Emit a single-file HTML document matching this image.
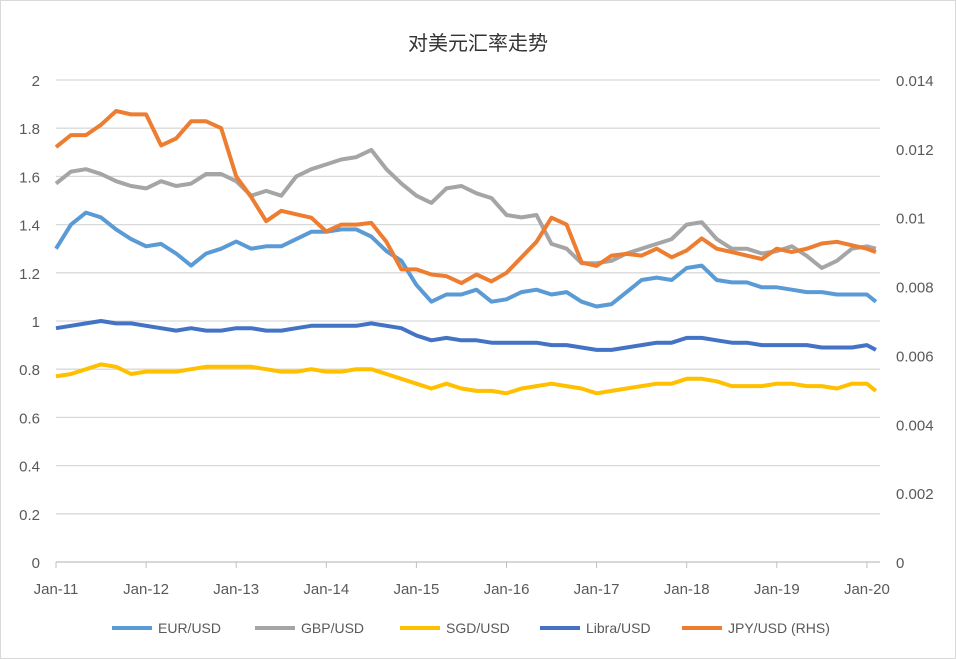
<!DOCTYPE html>
<html><head><meta charset="utf-8"><style>
body{margin:0;background:#fff}
svg{display:block;font-family:"Liberation Sans","Noto Sans CJK SC",sans-serif}
</style></head><body>
<svg id="chart" width="956" height="659">
<rect x="0.5" y="0.5" width="955" height="658" fill="#fff" stroke="#d9d9d9"/>
<text x="478" y="50" text-anchor="middle" font-size="20" fill="#333" font-family="'Liberation Sans','Noto Sans CJK SC',sans-serif">对美元汇率走势</text>
<g id="grid"></g><g id="axes"></g><g id="series"></g><g id="legend"></g>
</svg>
<script>
const leftTicks=["0","0.2","0.4","0.6","0.8","1","1.2","1.4","1.6","1.8","2"];
const rightTicks=["0","0.002","0.004","0.006","0.008","0.01","0.012","0.014"];
const xTicks=["Jan-11","Jan-12","Jan-13","Jan-14","Jan-15","Jan-16","Jan-17","Jan-18","Jan-19","Jan-20"];
const eur=[1.30,1.40,1.45,1.43,1.38,1.34,1.31,1.32,1.28,1.23,1.28,1.30,1.33,1.30,1.31,1.31,1.34,1.37,1.37,1.38,1.38,1.35,1.29,1.25,1.15,1.08,1.11,1.11,1.13,1.08,1.09,1.12,1.13,1.11,1.12,1.08,1.06,1.07,1.12,1.17,1.18,1.17,1.22,1.23,1.17,1.16,1.16,1.14,1.14,1.13,1.12,1.12,1.11,1.11,1.11,1.08];
const gbp=[1.57,1.62,1.63,1.61,1.58,1.56,1.55,1.58,1.56,1.57,1.61,1.61,1.58,1.52,1.54,1.52,1.60,1.63,1.65,1.67,1.68,1.71,1.63,1.57,1.52,1.49,1.55,1.56,1.53,1.51,1.44,1.43,1.44,1.32,1.30,1.24,1.24,1.25,1.28,1.30,1.32,1.34,1.40,1.41,1.34,1.30,1.30,1.28,1.29,1.31,1.27,1.22,1.25,1.30,1.31,1.30];
const sgd=[0.77,0.78,0.80,0.82,0.81,0.78,0.79,0.79,0.79,0.80,0.81,0.81,0.81,0.81,0.80,0.79,0.79,0.80,0.79,0.79,0.80,0.80,0.78,0.76,0.74,0.72,0.74,0.72,0.71,0.71,0.70,0.72,0.73,0.74,0.73,0.72,0.70,0.71,0.72,0.73,0.74,0.74,0.76,0.76,0.75,0.73,0.73,0.73,0.74,0.74,0.73,0.73,0.72,0.74,0.74,0.71];
const libra=[0.97,0.98,0.99,1.00,0.99,0.99,0.98,0.97,0.96,0.97,0.96,0.96,0.97,0.97,0.96,0.96,0.97,0.98,0.98,0.98,0.98,0.99,0.98,0.97,0.94,0.92,0.93,0.92,0.92,0.91,0.91,0.91,0.91,0.90,0.90,0.89,0.88,0.88,0.89,0.90,0.91,0.91,0.93,0.93,0.92,0.91,0.91,0.90,0.90,0.90,0.90,0.89,0.89,0.89,0.90,0.88];
const jpy=[0.01205,0.0124,0.0124,0.0127,0.0131,0.0130,0.0130,0.0121,0.0123,0.0128,0.0128,0.0126,0.0112,0.0106,0.0099,0.0102,0.0101,0.0100,0.0096,0.0098,0.0098,0.00985,0.0093,0.0085,0.0085,0.00835,0.0083,0.0081,0.00835,0.00815,0.0084,0.00885,0.0093,0.0100,0.0098,0.0087,0.0086,0.0089,0.00895,0.0089,0.0091,0.00885,0.00905,0.0094,0.0091,0.0090,0.0089,0.0088,0.0091,0.0090,0.0091,0.00925,0.0093,0.0092,0.0091,0.0090];
const X0=56,PXY=90.1,Y0=562,TOP=80,PR=880;
const xs=i=>X0+(i<55?i/6:9.1)*PXY;
const yl=v=>Y0-(v/2)*(Y0-TOP);
const yr=v=>Y0-(v/0.014)*(Y0-TOP);
const NS="http://www.w3.org/2000/svg";
function mk(t,a,p){const e=document.createElementNS(NS,t);for(const k in a)e.setAttribute(k,a[k]);p.appendChild(e);return e;}
const grid=document.getElementById('grid'),axes=document.getElementById('axes'),ser=document.getElementById('series'),leg=document.getElementById('legend');
leftTicks.forEach((t,i)=>{const y=yl(+t);
 const l=mk('line',{x1:X0,x2:PR,y1:y,y2:y,stroke:i==0?'#bfbfbf':'#d9d9d9','stroke-width':1.3},grid);
 
 
 const tx=mk('text',{x:40,y:y+6,'text-anchor':'end','font-size':15,fill:'#595959'},axes);tx.textContent=t;
 
 });
rightTicks.forEach(t=>{const y=yr(+t);
 const tx=mk('text',{x:896,y:y+6,'font-size':15,fill:'#595959'},axes);tx.textContent=t;
 
 });
xTicks.forEach((t,i)=>{const x=X0+i*PXY;
 const tk=mk('line',{x1:x,x2:x,y1:Y0,y2:Y0+6,stroke:'#bfbfbf'},axes);
 
 
 const tx=mk('text',{x:x,y:Y0+32,'text-anchor':'middle','font-size':15,fill:'#595959'},axes);tx.textContent=t;
 
 });
const S=[["EUR/USD",eur,'#5b9bd5',yl],["GBP/USD",gbp,'#a5a5a5',yl],["SGD/USD",sgd,'#ffc000',yl],["Libra/USD",libra,'#4472c4',yl],["JPY/USD (RHS)",jpy,'#ed7d31',yr]];
const lx=[112,255,400,540,682];
S.forEach((s,k)=>{const d=s[1].map((v,i)=>(i?'L':'M')+xs(i).toFixed(1)+','+s[3](v).toFixed(1)).join('');
 const p=mk('path',{d:d,fill:'none',stroke:s[2],'stroke-width':4,'stroke-linejoin':'round'},ser);
 
 
 const g=mk('g',{},leg);
 
 
 mk('line',{x1:lx[k],x2:lx[k]+40,y1:628,y2:628,stroke:s[2],'stroke-width':4},g);
 const tx=mk('text',{x:lx[k]+46,y:633,'font-size':14,fill:'#595959'},g);tx.textContent=s[0];});
</script>
</body></html>
